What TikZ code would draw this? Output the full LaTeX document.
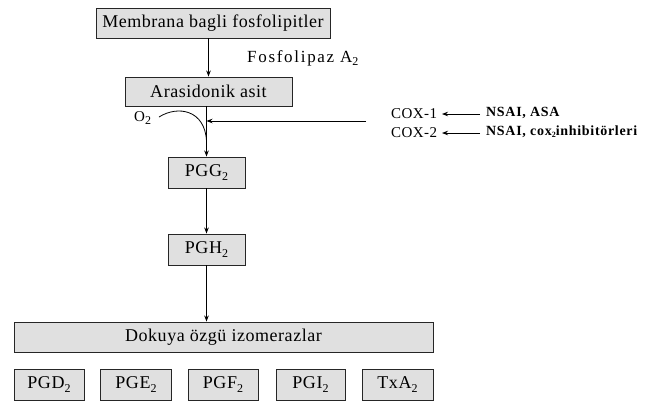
\documentclass[tikz,border=0pt]{standalone}
\usepackage{fontspec}
\setmainfont{Liberation Serif}
\usetikzlibrary{arrows.meta}
\newfontfamily\spaced[LetterSpace=3]{Liberation Serif}
\newfontfamily\spacedw[LetterSpace=10]{Liberation Serif}
\newfontfamily\spacedb[LetterSpace=5]{Liberation Serif Bold}
\newcommand\mysub[1]{\raisebox{-3.5pt}{\fontsize{12}{12}\selectfont #1}}
\begin{document}
\begin{tikzpicture}[x=1pt,y=-1pt,
  box/.style={draw=black!85, line width=0.9pt, fill=black!12, inner sep=0pt, font=\spaced\fontsize{18}{20}\selectfont},
  arr/.style={line width=0.8pt, -{Stealth[length=6pt,width=4.5pt]}},
  ln/.style={line width=0.8pt},
  lbl/.style={inner sep=0pt, font=\spaced\fontsize{15}{17}\selectfont},
  drug/.style={inner sep=0pt, anchor=west, font=\spacedb\fontsize{14}{16}\selectfont}]
\useasboundingbox (0,0) rectangle (654,402);
\fill[white] (0,0) rectangle (654,402);
% boxes
\node[box, minimum width=234pt, minimum height=30pt] (mem) at (213,23) {Membrana bagli fosfolipitler};
\node[box, minimum width=167pt, minimum height=29pt] (ara) at (208.5,91.5) {Arasidonik asit};
\node[box, minimum width=77pt, minimum height=31pt] (pgg) at (206.5,172.5) {PGG\mysub{2}};
\node[box, minimum width=77pt, minimum height=31pt] (pgh) at (206.5,249.5) {PGH\mysub{2}};
\node[box, minimum width=419pt, minimum height=30pt] (dok) at (223.5,337) {Dokuya özgü izomerazlar};
\node[box, minimum width=70pt, minimum height=31pt] (pgd) at (49,384.5) {PGD\mysub{2}};
\node[box, minimum width=71pt, minimum height=31pt] (pge) at (136,384.5) {PGE\mysub{2}};
\node[box, minimum width=70pt, minimum height=31pt] (pgf) at (223,384.5) {PGF\mysub{2}};
\node[box, minimum width=69pt, minimum height=31pt] (pgi) at (310.5,384.5) {PGI\mysub{2}};
\node[box, minimum width=71pt, minimum height=31pt] (txa) at (397.5,384.5) {TxA\mysub{2}};
% labels
\node[inner sep=0pt, anchor=west, font=\spacedw\fontsize{17}{19}\selectfont] (fos) at (247,58) {Fosfolipaz A\mysub{2}};
\node[lbl, anchor=west] (o2) at (134,118) {O\mysub{2}};
\node[lbl, anchor=west] (cox1) at (391,114) {COX-1};
\node[lbl, anchor=west] (cox2) at (391,133) {COX-2};
\node[drug] (d1) at (486,113) {NSAI, ASA};
\node[drug] (d2) at (486,132) {NSAI, cox{\fontsize{8}{8}\selectfont\raisebox{-2pt}{2}}inhibitörleri};
% connectors
\draw[arr] (ara.north |- mem.south) -- (ara.north);
\draw[arr] (pgg.north |- ara.south) -- (pgg.north);
\draw[arr] (pgh.north |- pgg.south) -- (pgh.north);
\draw[arr] (pgh.south) -- (pgh.south |- dok.north);
\coordinate (hs) at (366,121);
\draw[arr] (hs) -- (hs -| pgg.north);
\coordinate (a1) at (159,117);
\coordinate (a2) at (206.5,141);
\draw[ln] (a1) .. controls (178,105) and (205,110) .. (a2);
\draw[arr] (d1.west) ++(-6,1) -- ++(-38,0);
\draw[arr] (d2.west) ++(-6,1) -- ++(-38,0);
\end{tikzpicture}
\end{document}
